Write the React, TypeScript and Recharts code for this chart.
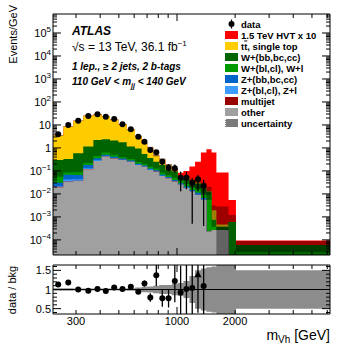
import React from "react";
import {
  ComposedChart,
  Area,
  Scatter,
  ErrorBar,
  XAxis,
  YAxis,
  ReferenceLine,
} from "recharts";

// bin edges in m_Vh [GeV]
const EDGES = [
  228, 258, 290, 327, 369, 407, 450, 497, 549, 606, 656, 702, 754, 810, 870,
  940, 1010, 1080, 1160, 1240, 1330, 1420, 1510, 1600, 1850, 2020, 6200,
];

// background components, Events/GeV per bin (bottom of stack first)
const OTHER = [
  0.0195, 0.034, 0.036, 0.118, 0.27, 0.42, 0.35, 0.3, 0.25, 0.18, 0.15, 0.11,
  0.093, 0.06, 0.048, 0.035, 0.025, 0.018, 0.0126, 0.009, 0.0055, 0.00023,
  0.00027, 0.00027, 0, 0,
];
const MULTIJET = [
  0.0008, 0.001, 0.001, 0.002, 0.003, 0.003, 0.003, 0.003, 0.002, 0.002, 0.001,
  0.001, 0.001, 0.0005, 0.0005, 0.0003, 0.0002, 0.0002, 0.0001, 0.0001, 0.0001,
  0, 0, 0, 0, 0,
];
const Z_LF = [
  0.002, 0.007, 0.006, 0.012, 0.017, 0.016, 0.012, 0.008, 0.006, 0.005, 0.004,
  0.003, 0.0025, 0.0016, 0.0012, 0.001, 0.0008, 0.0006, 0.0004, 0.0004, 0.0002,
  0, 0, 0, 0, 0,
];
const Z_HF = [
  0.008, 0.026, 0.024, 0.048, 0.07, 0.06, 0.048, 0.032, 0.024, 0.02, 0.016,
  0.012, 0.0095, 0.0064, 0.0048, 0.004, 0.0032, 0.0024, 0.0016, 0.0016, 0.0008,
  0, 0, 0, 0, 0,
];
const W_LF = [
  0.025, 0.017, 0.02, 0.04, 0.09, 0.13, 0.09, 0.05, 0.05, 0.04, 0.03, 0.025,
  0.02, 0.015, 0.01, 0.01, 0.008, 0.006, 0.004, 0.006, 0.004, 0.0087, 0.0001, 0,
  0.0006, 0,
];
const W_HF = [
  0.245, 0.245, 0.5, 0.93, 1.75, 1.77, 1.6, 1.39, 0.82, 0.7, 0.34, 0.21, 0.125,
  0.097, 0.046, 0.043, 0.014, 0.019, 0.009, 0.011, 0.0065, 0.0037, 0.0004,
  0.0001, 0, 0.00006,
];
const TTBAR = [
  3.15, 8.17, 14.8, 24.25, 26.7, 21.6, 15.2, 8.82, 4.95, 2.35, 1.09, 0.68, 0.22,
  0.14, 0.07, 0.014, 0.004, 0.0038, 0.0025, 0.003, 0.003, 0.0003, 0.0012,
  0.0001, 0, 0,
];
const HVT = [
  0, 0, 0, 0, 0, 0, 0, 0, 0, 0, 0, 0, 0.002, 0.004, 0.005, 0.012, 0.028, 0.05,
  0.125, 0.219, 0.61, 0.867, 0.628, 0.0845, 0.0049, 0.000033,
];
// relative background uncertainty per bin
const UNC_REL = [
  0.03, 0.03, 0.025, 0.025, 0.025, 0.025, 0.025, 0.025, 0.03, 0.05, 0.07, 0.08,
  0.1, 0.12, 0.12, 0.15, 0.17, 0.22, 0.35, 0.5, 0.55, 0.58, 0.6, 5, 1, 0.5,
];

// data, first 21 bins
const DATA = [
  3.9, 10, 15.4, 24.6, 29.2, 23, 18.2, 10.7, 6.5, 3.1, 1.88, 0.82, 0.65, 0.25,
  0.139, 0.131, 0.051, 0.051, 0.031, 0.043, 0.022,
];
const DATA_ERR_LO = [
  0.17, 0.35, 0.4, 0.5, 0.6, 0.5, 0.45, 0.3, 0.25, 0.17, 0.13, 0.09, 0.11, 0.07,
  0.045, 0.045, 0.038, 0.035, 0.0305, 0.03, 0.0216,
];
const DATA_ERR_HI = [
  0.17, 0.35, 0.4, 0.5, 0.6, 0.5, 0.45, 0.3, 0.25, 0.17, 0.13, 0.09, 0.13, 0.09,
  0.06, 0.06, 0.042, 0.04, 0.017, 0.024, 0.019,
];
const RATIO = [
  1.13, 1.18, 1.0, 0.97, 1.01, 0.96, 1.05, 1.01, 1.07, 0.94, 1.155, 0.79, 1.37,
  0.77, 0.77, 1.22, 0.92, 1.01, 1.04, 1.39, 1.09,
];
const RATIO_ERR = [
  0.05, 0.04, 0.03, 0.02, 0.02, 0.02, 0.025, 0.03, 0.04, 0.05, 0.08, 0.11, 0.28,
  0.22, 0.24, 0.55, 0.7, 0.8, 0.9, 1.0, 1.0,
];
const RATIO_MARK = [
  "o", "o", "o", "o", "o", "o", "o", "o", "o", "o", "o", "o", "o", "o", "o",
  "o", "o", "o", "o", "^", "o",
];

const X_TICKS = [300, 400, 500, 600, 700, 800, 900, 1000, 2000, 3000, 4000, 5000, 6000];
const X_LABELS = [300, 1000, 2000];
const Y_DECADES = [1e-5, 1e-4, 1e-3, 1e-2, 1e-1, 1, 10, 1e2, 1e3, 1e4, 1e5];
const R_TICKS = [0.4, 0.5, 0.6, 0.7, 0.8, 0.9, 1, 1.1, 1.2, 1.3, 1.4, 1.5, 1.6];
const R_LABELS = ["0.5", "1", "1.5"];

const LEGEND = [
  { label: "1.5 TeV HVT x 10", color: "#ff0000" },
  { label: "tt", color: "#ffcc00" },
  { label: "W+(bb,bc,cc)", color: "#006400" },
  { label: "W+(bl,cl), W+l", color: "#009a00" },
  { label: "Z+(bb,bc,cc)", color: "#0064c8" },
  { label: "Z+(bl,cl), Z+l", color: "#3c9cff" },
  { label: "multijet", color: "#990000" },
  { label: "other", color: "#a0a0a0" },
];

const FONT = "'Liberation Sans', Arial, Helvetica, sans-serif";
const X_MIN = EDGES[0];
const X_MAX = EDGES[EDGES.length - 1];
const Y_MIN = 2.2e-5;
const Y_MAX = 6.7e5;
const R_MIN = 0.36;
const R_MAX = 1.64;
const FLOOR = 1e-9;
const NB = EDGES.length - 1;

// stack order bottom -> top
const STACK = [OTHER, MULTIJET, Z_LF, Z_HF, W_LF, W_HF, TTBAR, HVT];
const STACK_COLORS = ["#a0a0a0", "#990000", "#3c9cff", "#0064c8", "#009a00", "#006400", "#ffcc00", "#ff0000"];

const cumulative: number[][] = [];
{
  let run = new Array(NB).fill(0);
  for (const comp of STACK) {
    run = run.map((r: number, i: number) => r + comp[i]);
    cumulative.push(run);
  }
}

const rows = EDGES.map((m, i) => {
  const b = Math.min(i, NB - 1);
  const row: Record<string, any> = { m };
  cumulative.forEach((c, k) => {
    row["c" + k] = Math.max(c[b], FLOOR);
  });
  const bkg = cumulative[6][b];
  row.unc = [Math.max(bkg * (1 - UNC_REL[b]), FLOOR), bkg * (1 + UNC_REL[b])];
  row.band = [1 - UNC_REL[b], 1 + UNC_REL[b]];
  return row;
});

const dataPts = DATA.map((v, i) => ({
  m: Math.sqrt(EDGES[i] * EDGES[i + 1]),
  v,
  err: [DATA_ERR_LO[i], DATA_ERR_HI[i]],
  mark: "o",
}));

// error bars are not clipped by the chart, so stop them at the panel edges
const ratioPts = RATIO.map((v, i) => ({
  m: Math.sqrt(EDGES[i] * EDGES[i + 1]),
  v,
  err: [Math.min(RATIO_ERR[i], v - R_MIN), Math.min(RATIO_ERR[i], R_MAX - v)],
  mark: RATIO_MARK[i],
}));

const Y_TICKS: number[] = [];
for (const d of Y_DECADES) {
  for (let k = 1; k <= 9; k++) {
    const v = k * d;
    if (v >= Y_MIN && v <= Y_MAX) Y_TICKS.push(v);
  }
}

function XTick(p: any) {
  const v = p.payload.value;
  const len = v === 1000 ? 7 : 4;
  return (
    <g>
      <line x1={p.x} y1={p.y} x2={p.x} y2={p.y + p.dir * len} stroke="#000" strokeWidth={1} />
      {p.labels && X_LABELS.includes(v) ? (
        <text x={p.x} y={p.y + 10.5} textAnchor="middle" fontFamily={FONT} fontSize={11} fill="#000">
          {v}
        </text>
      ) : null}
    </g>
  );
}

function YLogTick(p: any) {
  const v = p.payload.value;
  const major = Y_DECADES.includes(v);
  const len = major ? 8 : 4;
  const e = Math.round(Math.log10(v));
  let label: React.ReactNode = null;
  if (p.labels && major) {
    label = (
      <text x={p.x - 2} y={p.y + 4} textAnchor="end" fontFamily={FONT} fontSize={11} fill="#000">
        {e === 0 ? "1" : "10"}
        {e !== 0 && e !== 1 ? (
          <tspan dy={-5} fontSize={8}>
            {e < 0 ? "\u2212" + -e : String(e)}
          </tspan>
        ) : null}
      </text>
    );
  }
  return (
    <g>
      <line x1={p.x} y1={p.y} x2={p.x + p.dir * len} y2={p.y} stroke="#000" strokeWidth={1} />
      {label}
    </g>
  );
}

function RTick(p: any) {
  const v = p.payload.value;
  const s = String(+v.toFixed(1));
  const major = R_LABELS.includes(s);
  const len = major ? 8 : 4;
  return (
    <g>
      <line x1={p.x} y1={p.y} x2={p.x + p.dir * len} y2={p.y} stroke="#000" strokeWidth={1} />
      {p.labels && major ? (
        <text x={p.x - 2} y={p.y + 4} textAnchor="end" fontFamily={FONT} fontSize={11} fill="#000">
          {s}
        </text>
      ) : null}
    </g>
  );
}

function Marker(p: any) {
  if (p.cx == null || p.cy == null) return null;
  if (p.payload && p.payload.mark === "^") {
    return (
      <path
        d={`M${p.cx},${p.cy - 4} L${p.cx + 3.6},${p.cy + 2.6} L${p.cx - 3.6},${p.cy + 2.6} Z`}
        fill="#000"
      />
    );
  }
  return <circle cx={p.cx} cy={p.cy} r={3} fill="#000" />;
}

const axisLine = { stroke: "#000", strokeWidth: 1 };

export default function App() {
  const legendY0 = 24;
  const legendDy = 11;
  return (
    <div style={{ position: "absolute", left: 0, top: 0, width: 357, height: 348, background: "#fff" }}>
      <div style={{ position: "absolute", left: 0, top: 0 }}>
        <ComposedChart width={357} height={260} data={rows} margin={{ top: 0, right: 0, bottom: 0, left: 0 }}>
          <XAxis
            xAxisId="b"
            dataKey="m"
            type="number"
            scale="log"
            domain={[X_MIN, X_MAX]}
            allowDataOverflow
            ticks={X_TICKS}
            interval={0}
            height={5}
            tickSize={0}
            tickMargin={0}
            tickLine={false}
            axisLine={axisLine}
            tick={(p: any) => <XTick {...p} dir={-1} />}
          />
          <XAxis
            xAxisId="t"
            orientation="top"
            dataKey="m"
            type="number"
            scale="log"
            domain={[X_MIN, X_MAX]}
            allowDataOverflow
            ticks={X_TICKS}
            interval={0}
            height={14}
            tickSize={0}
            tickMargin={0}
            tickLine={false}
            axisLine={axisLine}
            tick={(p: any) => <XTick {...p} dir={1} />}
          />
          <YAxis
            yAxisId="l"
            dataKey="v"
            type="number"
            scale="log"
            domain={[Y_MIN, Y_MAX]}
            allowDataOverflow
            ticks={Y_TICKS}
            interval={0}
            width={53}
            tickSize={0}
            tickMargin={0}
            tickLine={false}
            axisLine={axisLine}
            tick={(p: any) => <YLogTick {...p} dir={1} labels />}
          />
          <YAxis
            yAxisId="r"
            orientation="right"
            dataKey="v"
            type="number"
            scale="log"
            domain={[Y_MIN, Y_MAX]}
            allowDataOverflow
            ticks={Y_TICKS}
            interval={0}
            width={27}
            tickSize={0}
            tickMargin={0}
            tickLine={false}
            axisLine={axisLine}
            tick={(p: any) => <YLogTick {...p} dir={-1} />}
          />
          {[7, 6, 5, 4, 3, 2, 1, 0].map((k) => (
            <Area
              key={"c" + k}
              xAxisId="b"
              yAxisId="l"
              type="stepAfter"
              dataKey={"c" + k}
              baseValue={Y_MIN}
              fill={STACK_COLORS[k]}
              fillOpacity={1}
              stroke="none"
              dot={false}
              activeDot={false}
              isAnimationActive={false}
            />
          ))}
          <Area
            xAxisId="b"
            yAxisId="l"
            type="stepAfter"
            dataKey="unc"
            fill="#000"
            fillOpacity={0.38}
            stroke="none"
            dot={false}
            activeDot={false}
            isAnimationActive={false}
          />
          <Scatter
            xAxisId="b"
            yAxisId="l"
            data={dataPts}
            shape={Marker}
            isAnimationActive={false}
          >
            <ErrorBar dataKey="err" direction="y" width={0} stroke="#000" strokeWidth={1.3} isAnimationActive={false} />
          </Scatter>
        </ComposedChart>
      </div>

      <div style={{ position: "absolute", left: 0, top: 256 }}>
        <ComposedChart width={357} height={92} data={rows} margin={{ top: 0, right: 0, bottom: 0, left: 0 }}>
          <XAxis
            xAxisId="b"
            dataKey="m"
            type="number"
            scale="log"
            domain={[X_MIN, X_MAX]}
            allowDataOverflow
            ticks={X_TICKS}
            interval={0}
            height={34}
            tickSize={0}
            tickMargin={0}
            tickLine={false}
            axisLine={axisLine}
            tick={(p: any) => <XTick {...p} dir={-1} labels />}
          />
          <XAxis
            xAxisId="t"
            orientation="top"
            dataKey="m"
            type="number"
            scale="log"
            domain={[X_MIN, X_MAX]}
            allowDataOverflow
            ticks={X_TICKS}
            interval={0}
            height={9}
            tickSize={0}
            tickMargin={0}
            tickLine={false}
            axisLine={axisLine}
            tick={(p: any) => <XTick {...p} dir={1} />}
          />
          <YAxis
            yAxisId="l"
            dataKey="v"
            type="number"
            domain={[R_MIN, R_MAX]}
            allowDataOverflow
            ticks={R_TICKS}
            interval={0}
            width={53}
            tickSize={0}
            tickMargin={0}
            tickLine={false}
            axisLine={axisLine}
            tick={(p: any) => <RTick {...p} dir={1} labels />}
          />
          <YAxis
            yAxisId="r"
            orientation="right"
            dataKey="v"
            type="number"
            domain={[R_MIN, R_MAX]}
            allowDataOverflow
            ticks={R_TICKS}
            interval={0}
            width={27}
            tickSize={0}
            tickMargin={0}
            tickLine={false}
            axisLine={axisLine}
            tick={(p: any) => <RTick {...p} dir={-1} />}
          />
          <Area
            xAxisId="b"
            yAxisId="l"
            type="stepAfter"
            dataKey="band"
            fill="#8c8c8c"
            fillOpacity={1}
            stroke="none"
            dot={false}
            activeDot={false}
            isAnimationActive={false}
          />
          <ReferenceLine xAxisId="b" yAxisId="l" y={1} stroke="#000" strokeWidth={1.2} />
          <Scatter
            xAxisId="b"
            yAxisId="l"
            data={ratioPts}
            shape={Marker}
            isAnimationActive={false}
          >
            <ErrorBar dataKey="err" direction="y" width={0} stroke="#000" strokeWidth={1.3} isAnimationActive={false} />
          </Scatter>
        </ComposedChart>
      </div>

      <svg
        width={357}
        height={348}
        style={{ position: "absolute", left: 0, top: 0, pointerEvents: "none" }}
        fontFamily={FONT}
      >
        <text transform="rotate(-90)" x={-5} y={16.5} textAnchor="end" fontSize={11}>
          Events/GeV
        </text>
        <text transform="rotate(-90)" x={-290} y={16} textAnchor="middle" fontSize={11}>
          data / bkg
        </text>

        <text x={72} y={35} fontSize={12} fontWeight="bold" fontStyle="italic">
          ATLAS
        </text>
        <text x={72} y={51} fontSize={12}>
          {"\u221As = 13 TeV, 36.1 fb"}
          <tspan dy={-5} fontSize={8}>
            {"\u22121"}
          </tspan>
        </text>
        <text x={72} y={70} fontSize={10} fontWeight="bold" fontStyle="italic">
          {"1 lep., \u2265 2 jets, 2 b-tags"}
        </text>
        <text x={72} y={85} fontSize={10} fontWeight="bold" fontStyle="italic">
          {"110 GeV < m"}
          <tspan dy={2.5} fontSize={7}>
            jj
          </tspan>
          <tspan dy={-2.5}>{" < 140 GeV"}</tspan>
        </text>

        {/* legend */}
        <line x1={231.5} y1={legendY0 - 4.5} x2={231.5} y2={legendY0 + 4.5} stroke="#000" strokeWidth={1.2} />
        <circle cx={231.5} cy={legendY0} r={3} fill="#000" />
        <text x={241} y={legendY0 + 3.5} fontSize={9.5} fontWeight="bold">
          data
        </text>
        {LEGEND.map((item, i) => {
          const cy = legendY0 + legendDy * (i + 1);
          return (
            <g key={item.label}>
              <rect x={225} y={cy - 4} width={13} height={8} fill={item.color} />
              <text x={241} y={cy + 3.5} fontSize={9.5} fontWeight="bold">
                {item.label === "tt" ? (
                  <>
                    t<tspan textDecoration="overline">t</tspan>, single top
                  </>
                ) : (
                  item.label
                )}
              </text>
            </g>
          );
        })}
        {(() => {
          const cy = legendY0 + legendDy * (LEGEND.length + 1);
          return (
            <g>
              <rect x={225} y={cy - 4} width={13} height={8} fill="#7a7a7a" />
              <line x1={225.5} y1={cy - 4} x2={225.5} y2={cy + 4} stroke="#fff" strokeDasharray="1 1" />
              <text x={241} y={cy + 3.5} fontSize={9.5} fontWeight="bold">
                uncertainty
              </text>
            </g>
          );
        })()}

        <text x={330} y={340} textAnchor="end" fontSize={14}>
          m
          <tspan dy={3} fontSize={10}>
            Vh
          </tspan>
          <tspan dy={-3}>{" [GeV]"}</tspan>
        </text>
      </svg>
    </div>
  );
}
